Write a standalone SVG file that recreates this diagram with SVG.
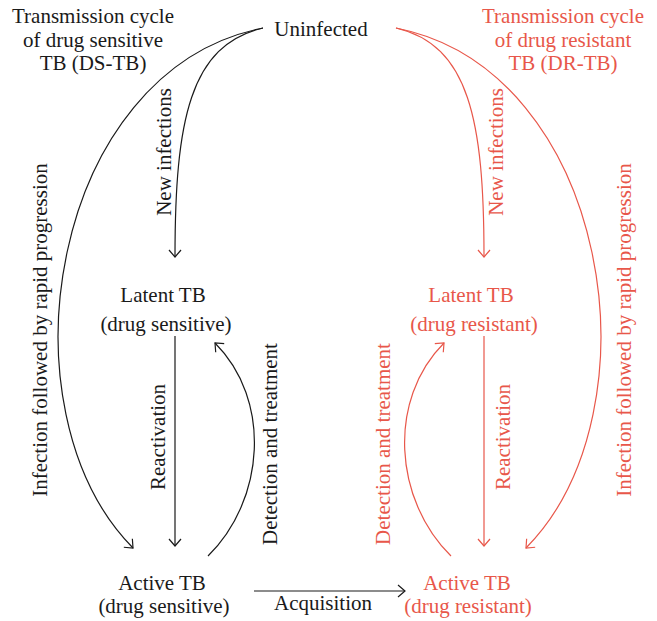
<svg xmlns="http://www.w3.org/2000/svg" width="657" height="621" viewBox="0 0 657 621">
<style>
text{font-family:"Liberation Serif","Times New Roman",serif;font-size:21px;text-anchor:middle}
.k{fill:#1a1a1a}
.r{fill:#e8574a}
.ck{fill:none;stroke:#1a1a1a;stroke-width:1.2}
.cr{fill:none;stroke:#e8574a;stroke-width:1.2}
</style>
<defs>
<marker id="ak" viewBox="0 0 16 16" markerWidth="16" markerHeight="16" refX="8" refY="8" orient="auto" markerUnits="userSpaceOnUse"><path d="M1,2 L8,8 L1,14" fill="none" stroke="#1a1a1a" stroke-width="1.2"/></marker>
<marker id="ar" viewBox="0 0 16 16" markerWidth="16" markerHeight="16" refX="8" refY="8" orient="auto" markerUnits="userSpaceOnUse"><path d="M1,2 L8,8 L1,14" fill="none" stroke="#e8574a" stroke-width="1.2"/></marker>
</defs>
<g id="title-ds" class="k"><text x="93" y="23">Transmission cycle</text><text x="93" y="47">of drug sensitive</text><text x="93" y="70">TB (DS-TB)</text></g>
<g id="title-dr" class="r"><text x="563" y="23">Transmission cycle</text><text x="563" y="47">of drug resistant</text><text x="563" y="70">TB (DR-TB)</text></g>
<g id="uninfected" class="k"><text x="321" y="36">Uninfected</text></g>
<g id="latent-ds" class="k"><text x="163" y="302">Latent TB</text><text x="166" y="331">(drug sensitive)</text></g>
<g id="latent-dr" class="r"><text x="471" y="302">Latent TB</text><text x="474" y="331">(drug resistant)</text></g>
<g id="active-ds" class="k"><text x="162" y="590">Active TB</text><text x="164" y="613">(drug sensitive)</text></g>
<g id="active-dr" class="r"><text x="467" y="590">Active TB</text><text x="468" y="613">(drug resistant)</text></g>
<g id="connectors">
<path class="ck" d="M263,28 C190,45 175,120 175,257" marker-end="url(#ak)"/>
<path class="ck" d="M263,28 C50,70 -3,410 133,548" marker-end="url(#ak)"/>
<path class="ck" d="M175,336 L175,546" marker-end="url(#ak)"/>
<path class="ck" d="M208,556 C265,500 272,400 215,343" marker-end="url(#ak)"/>
<path class="ck" d="M254,591 L405,591" marker-end="url(#ak)"/>
<path class="cr" d="M396,28 C469,45 484,120 484,257" marker-end="url(#ar)"/>
<path class="cr" d="M396,28 C609,70 662,410 526,548" marker-end="url(#ar)"/>
<path class="cr" d="M484,336 L484,546" marker-end="url(#ar)"/>
<path class="cr" d="M451,556 C394,500 387,400 444,343" marker-end="url(#ar)"/>
<g class="k">
<text transform="translate(171,152) rotate(-90)">New infections</text>
<text transform="translate(47,330) rotate(-90)">Infection followed by rapid progression</text>
<text transform="translate(165,437) rotate(-90)">Reactivation</text>
<text transform="translate(277,444) rotate(-90)">Detection and treatment</text>
<text x="323" y="610">Acquisition</text>
</g>
<g class="r">
<text transform="translate(503,152) rotate(-90)">New infections</text>
<text transform="translate(631,330) rotate(-90)">Infection followed by rapid progression</text>
<text transform="translate(510,437) rotate(-90)">Reactivation</text>
<text transform="translate(390,444) rotate(-90)">Detection and treatment</text>
</g>
</g>
</svg>
